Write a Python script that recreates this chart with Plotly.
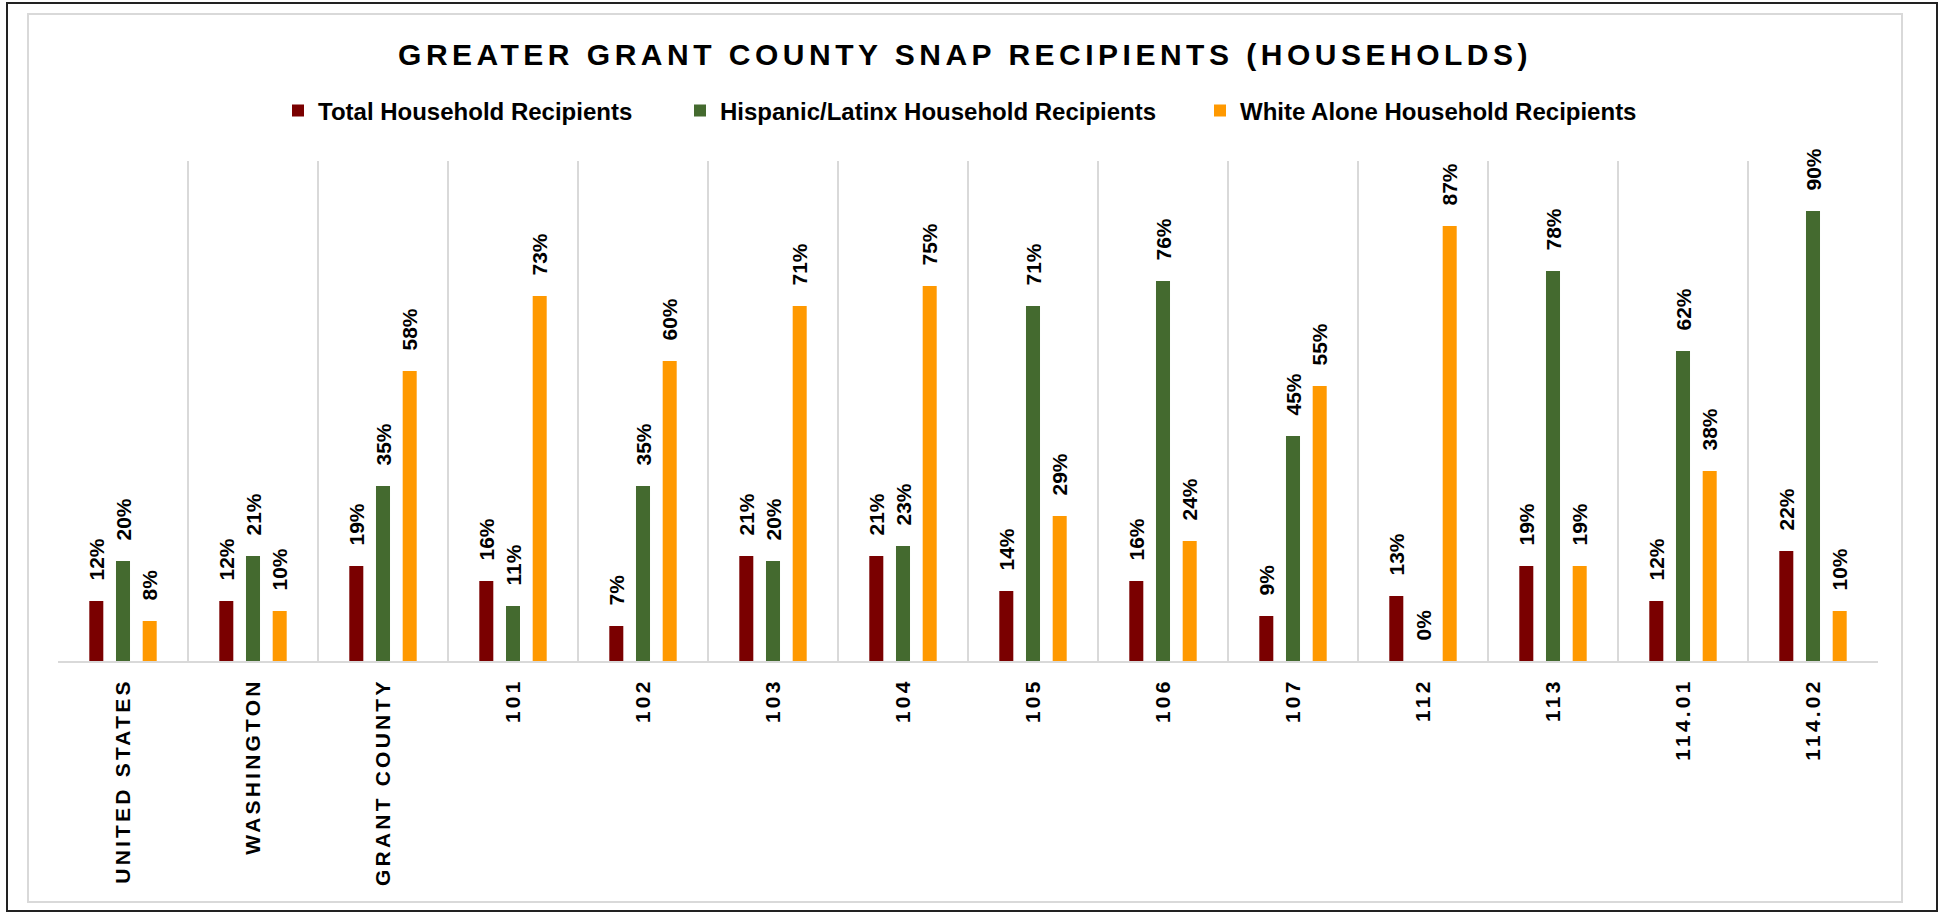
import plotly.graph_objects as go

# ── Data (share of households receiving SNAP, %) ─────────────────────────────
AREAS = [
    "UNITED STATES", "WASHINGTON", "GRANT COUNTY", "101", "102", "103", "104",
    "105", "106", "107", "112", "113", "114.01", "114.02",
]
TOTAL = [12, 12, 19, 16, 7, 21, 21, 14, 16, 9, 13, 19, 12, 22]
HISPANIC = [20, 21, 35, 11, 35, 20, 23, 71, 76, 45, 0, 78, 62, 90]
WHITE = [8, 10, 58, 73, 60, 71, 75, 29, 24, 55, 87, 19, 38, 10]

SERIES = [
    ("Total Household Recipients", TOTAL, "#7A0000"),
    ("Hispanic/Latinx Household Recipients", HISPANIC, "#446A2F"),
    ("White Alone Household Recipients", WHITE, "#FF9900"),
]

FONT = "Liberation Sans, Arial, sans-serif"
GRID = "#D9D9D9"

# plot area in page pixels (1944 x 913 window)
W, H = 1944, 913
PL, PR, PT, PB = 58, 1878, 161, 661

# left edge of each legend entry (text starts 40px further right)
LEGEND_LEFT = [278, 680, 1200]


def px_x(x):
    return (x - PL) / (PR - PL)


def px_y(y):
    return (PB - y) / (PB - PT)


fig = go.Figure()
legend_names = ["legend", "legend2", "legend3"]
for (name, vals, color), lg in zip(SERIES, legend_names):
    fig.add_trace(go.Bar(
        name=name, x=AREAS, y=vals,
        legend=lg,
        showlegend=True,
        marker=dict(color=color, line_width=0),
        texttemplate="\u00a0\u00a0\u00a0%{y}%",
        textposition="outside",
        textangle=-90,
        constraintext="none",
        cliponaxis=False,
        textfont=dict(family=FONT, size=21, color="#000000", weight="bold"),
        hoverinfo="skip",
    ))

legend_style = dict(
    orientation="h",
    xanchor="left",
    y=px_y(111), yanchor="middle",
    font=dict(family=FONT, size=24, color="#000000", weight="bold"),
    itemwidth=30,
    bgcolor="rgba(0,0,0,0)",
)

fig.update_layout(
    width=W, height=H,
    showlegend=True,
    barmode="group",
    bargap=0.384,
    bargroupgap=0.475,
    plot_bgcolor="#FFFFFF",
    paper_bgcolor="#FFFFFF",
    margin=dict(l=PL, r=W - PR, t=PT, b=H - PB, autoexpand=False),
    title=dict(
        text="GREATER GRANT COUNTY SNAP RECIPIENTS (HOUSEHOLDS)",
        x=965 / W, xanchor="center",
        y=1 - 54 / H, yanchor="middle",
        font=dict(family=FONT, size=30, color="#000000", weight="bold"),
    ),
    legend=dict(x=px_x(LEGEND_LEFT[0]), **legend_style),
    legend2=dict(x=px_x(LEGEND_LEFT[1]), **legend_style),
    legend3=dict(x=px_x(LEGEND_LEFT[2]), **legend_style),
    xaxis=dict(
        type="category",
        tickson="boundaries",
        showgrid=True, gridcolor=GRID, gridwidth=1.5,
        showline=True, linecolor=GRID, linewidth=2,
        ticks="", tickangle=-90,
        ticklabelstandoff=7,
        tickfont=dict(family=FONT, size=21, color="#000000", weight="bold"),
        fixedrange=True,
    ),
    yaxis=dict(
        range=[0, 100],
        showgrid=False, zeroline=False, showticklabels=False,
        fixedrange=True,
    ),
    shapes=[
        dict(type="rect", xref="paper", yref="paper",
             x0=px_x(28), x1=px_x(1902), y0=px_y(902), y1=px_y(14),
             line=dict(color=GRID, width=2), layer="below"),
        dict(type="rect", xref="paper", yref="paper",
             x0=px_x(7), x1=px_x(1937), y0=px_y(911), y1=px_y(3),
             line=dict(color="#222222", width=2), layer="below"),
    ],
)

# page without body margin + Excel-style letter spacing on title and categories
post = """
document.body.style.margin = '0';
var gd = document.getElementById('{plot_id}');
function spacing() {
  gd.querySelectorAll('.gtitle').forEach(function (t) { t.style.letterSpacing = '4.5px'; });
  gd.querySelectorAll('.xtick text').forEach(function (t) { t.style.letterSpacing = '3.2px'; });
}
spacing();
gd.on('plotly_afterplot', spacing);
"""

fig.write_html("out.html", post_script=post, config={"displayModeBar": False})
